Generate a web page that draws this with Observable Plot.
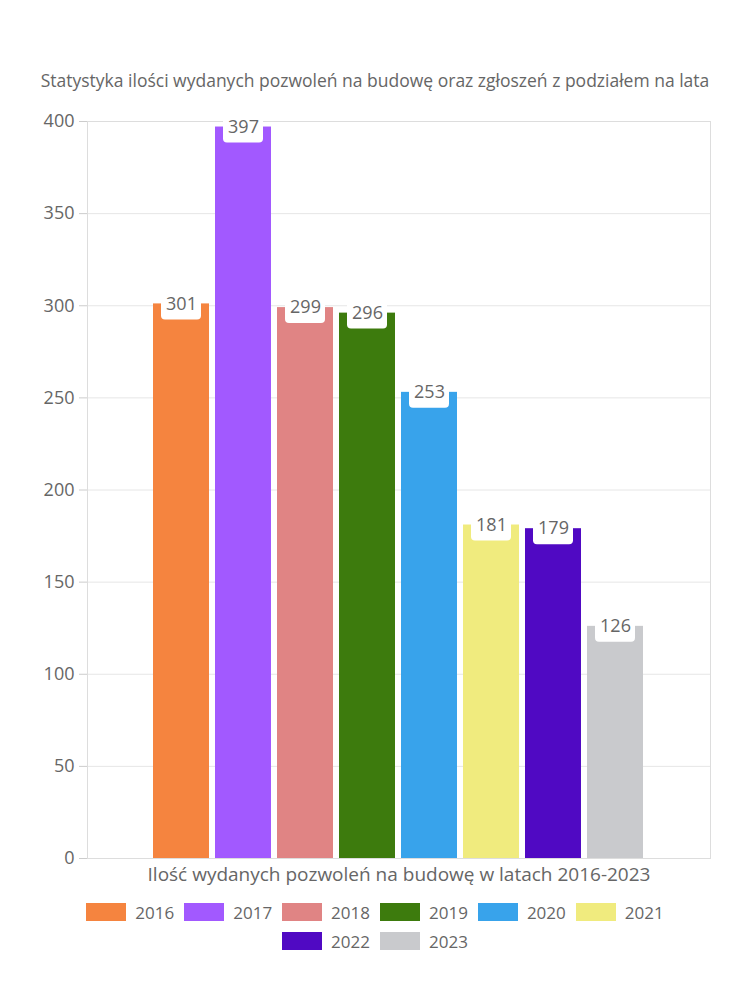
<!DOCTYPE html>
<html>
<head>
<meta charset="utf-8">
<script src="https://cdn.jsdelivr.net/npm/d3@7"></script>
<script src="https://cdn.jsdelivr.net/npm/@observablehq/plot@0.6"></script>
<style>
  body { margin: 0; background: #fff; font-family: "Open Sans", sans-serif; color: #666; }
  #wrap { position: relative; width: 750px; height: 1000px; }
  #title { position: absolute; top: 68px; left: 0; width: 750px; text-align: center; font-size: 17.5px; color: #666; }
  #chart { position: absolute; top: 0; left: 0; }
  #legend { position: absolute; top: 903px; left: 75px; width: 600px; display: flex; flex-wrap: wrap; justify-content: center; column-gap: 10px; row-gap: 11px; }
  .item { display: flex; align-items: center; height: 18px; font-size: 17px; color: #666; }
  .sw { width: 40px; height: 18px; margin-right: 9px; }
</style>
</head>
<body>
<div id="wrap">
  <div id="title"></div>
  <div id="chart"></div>
  <div id="legend"></div>
</div>
<script>
const titleText = "Statystyka ilości wydanych pozwoleń na budowę oraz zgłoszeń z podziałem na lata";
const xLabel = "Ilość wydanych pozwoleń na budowę w latach 2016-2023";
const years = ["2016", "2017", "2018", "2019", "2020", "2021", "2022", "2023"];
const values = [301, 397, 299, 296, 253, 181, 179, 126];
const colors = ["#f5843f", "#a259ff", "#e08484", "#3d7b0d", "#38a3eb", "#f0eb7e", "#5009c3", "#c9cacd"];
const yTicks = [0, 50, 100, 150, 200, 250, 300, 350, 400];

const data = years.map((y, i) => ({year: y, value: values[i]}));

document.getElementById("title").textContent = titleText;

const chart = Plot.plot({
  width: 750,
  height: 900,
  marginTop: 121,
  marginBottom: 42,
  marginLeft: 87,
  marginRight: 40,
  style: {fontFamily: "Open Sans, sans-serif", color: "#666", background: "transparent"},
  x: {type: "band", domain: years, range: [150, 645], paddingInner: 0.1, paddingOuter: 0, axis: null},
  y: {domain: [0, 400], axis: null},
  color: {type: "ordinal", domain: years, range: colors},
  marks: [
    Plot.gridY(yTicks, {stroke: "#e6e6e6", strokeOpacity: 1}),
    Plot.frame({stroke: "#dddddd"}),
    Plot.axisY(yTicks, {tickSize: 8, tickPadding: 5, stroke: "#cccccc", fill: "#666", fontSize: 18, label: null}),
    Plot.barY(data, {x: "year", y: "value", fill: "year"}),
    Plot.barY(data, {x: "year", y1: "value", y2: "value", fill: "white", insetTop: -12, insetBottom: -16, insetLeft: 8, insetRight: 8, rx: 4}),
    Plot.text(data, {x: "year", y: "value", text: d => String(d.value), fill: "#666", fontSize: 18}),
    Plot.text([xLabel], {frameAnchor: "bottom", dy: 22, fill: "#666", fontSize: 19})
  ]
});
document.getElementById("chart").appendChild(chart);

const legend = document.getElementById("legend");
years.forEach((y, i) => {
  const it = document.createElement("div");
  it.className = "item";
  const sw = document.createElement("div");
  sw.className = "sw";
  sw.style.background = colors[i];
  const t = document.createElement("span");
  t.textContent = y;
  it.appendChild(sw);
  it.appendChild(t);
  legend.appendChild(it);
});
</script>
</body>
</html>
